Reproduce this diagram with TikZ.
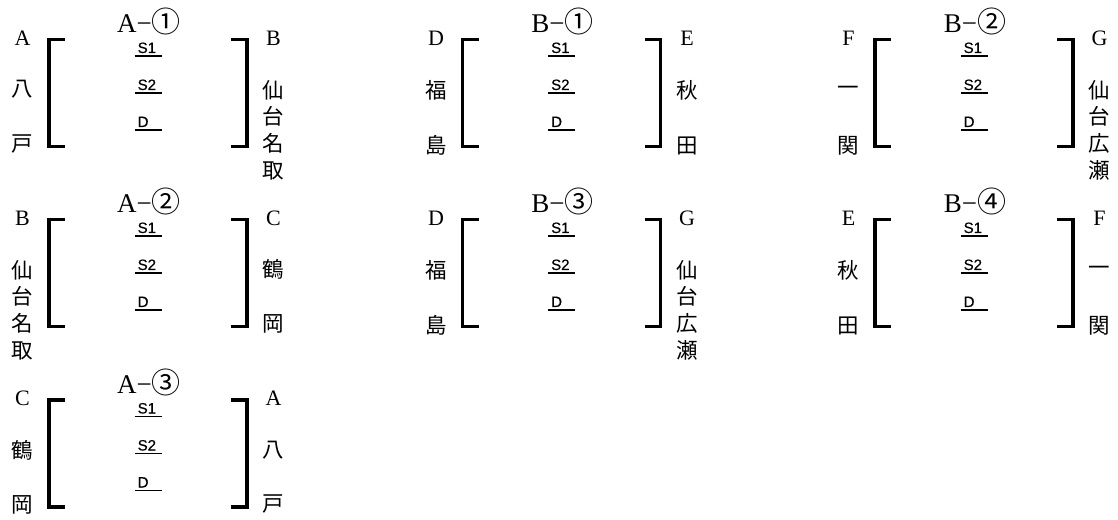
\documentclass[tikz,border=0pt]{standalone}
\usepackage{fontspec}
\setmainfont{Liberation Serif}
\newfontfamily\jp{Noto Sans CJK JP}
\newfontfamily\sfa[FakeBold=0.5]{Liberation Sans}
\tikzset{
  brk/.style={line width=3.6bp, line cap=butt, line join=miter},
  ul/.style={line width=1.4bp},
  ttl/.style={inner sep=0pt, font=\fontsize{27bp}{27bp}\selectfont},
  lat/.style={inner sep=0pt, font=\fontsize{22bp}{22bp}\selectfont},
  jpc/.style={inner sep=0pt, font=\jp\fontsize{21.5bp}{21.5bp}\selectfont},
  sl/.style={inner sep=0pt, font=\sfa\fontsize{15bp}{15bp}\selectfont},
}
\newcommand\cn[1]{{\jp\fontsize{29bp}{29bp}\selectfont #1}}
% #1 id, #2 x of left bracket, #3 y of top, #4 title, #5 left latin, #6 left chars, #7 right latin, #8 right chars
\newcommand\blk[8]{%
  \pgfmathsetmacro\bx{#2}%
  \pgfmathsetmacro\by{#3}%
  \pgfmathsetmacro\bxr{#2+198}%
  \pgfmathsetmacro\bxc{#2+99}%
  \draw[brk] (\bx+16,\by) -- (\bx,\by) -- (\bx,\by+107) -- (\bx+16,\by+107);
  \draw[brk] (\bxr-16,\by) -- (\bxr,\by) -- (\bxr,\by+107) -- (\bxr-16,\by+107);
  \node[ttl] (#1-t) at (\bxc+1,\by-18) {#4};
  \node[lat] (#1-L) at (\bx-26.5,\by-1.5) {#5};
  \node[lat] (#1-R) at (\bxr+26.5,\by-1.5) {#7};
  \foreach \dy/\cc [count=\k] in {#6} {\node[jpc] (#1-l\k) at (\bx-26.5,\by+\dy) {\cc};}
  \foreach \dy/\cc [count=\k] in {#8} {\node[jpc] (#1-r\k) at (\bxr+26.5,\by+\dy) {\cc};}
  \foreach \txt/\dy [count=\k] in {S1/13.5,S2/50.5,D/87.5} {%
    \node[sl, anchor=base west] (#1-s\k) at (\bxc-10.5,\by+\dy) {\txt};
    \draw[ul] (\bxc-13.5,\by+\dy+3.2) -- (\bxc+13.5,\by+\dy+3.2);
  }
}
\begin{document}
\begin{tikzpicture}[x=1bp,y=-1bp]
\useasboundingbox (0,0) rectangle (1118,520);
\blk{a1}{49}{39.5}{A−\cn{①}}{A}{50/八,104.5/戸}{B}{50.5/仙,77/台,104/名,131/取}
\blk{a2}{49}{219.5}{A−\cn{②}}{B}{50.5/仙,77/台,104/名,131/取}{C}{50/鶴,104.5/岡}
\blk{a3}{49}{400}{A−\cn{③}}{C}{50/鶴,104.5/岡}{A}{50/八,104.5/戸}
\blk{b1}{462.5}{39.5}{B−\cn{①}}{D}{51/福,106/島}{E}{51/秋,106/田}
\blk{b3}{462.5}{219.5}{B−\cn{③}}{D}{51/福,106/島}{G}{50.5/仙,77/台,104/広,131/瀬}
\blk{b2}{875}{39.5}{B−\cn{②}}{F}{51/一,106/関}{G}{50.5/仙,77/台,104/広,131/瀬}
\blk{b4}{875}{219.5}{B−\cn{④}}{E}{51/秋,106/田}{F}{51/一,106/関}
\end{tikzpicture}
\end{document}
